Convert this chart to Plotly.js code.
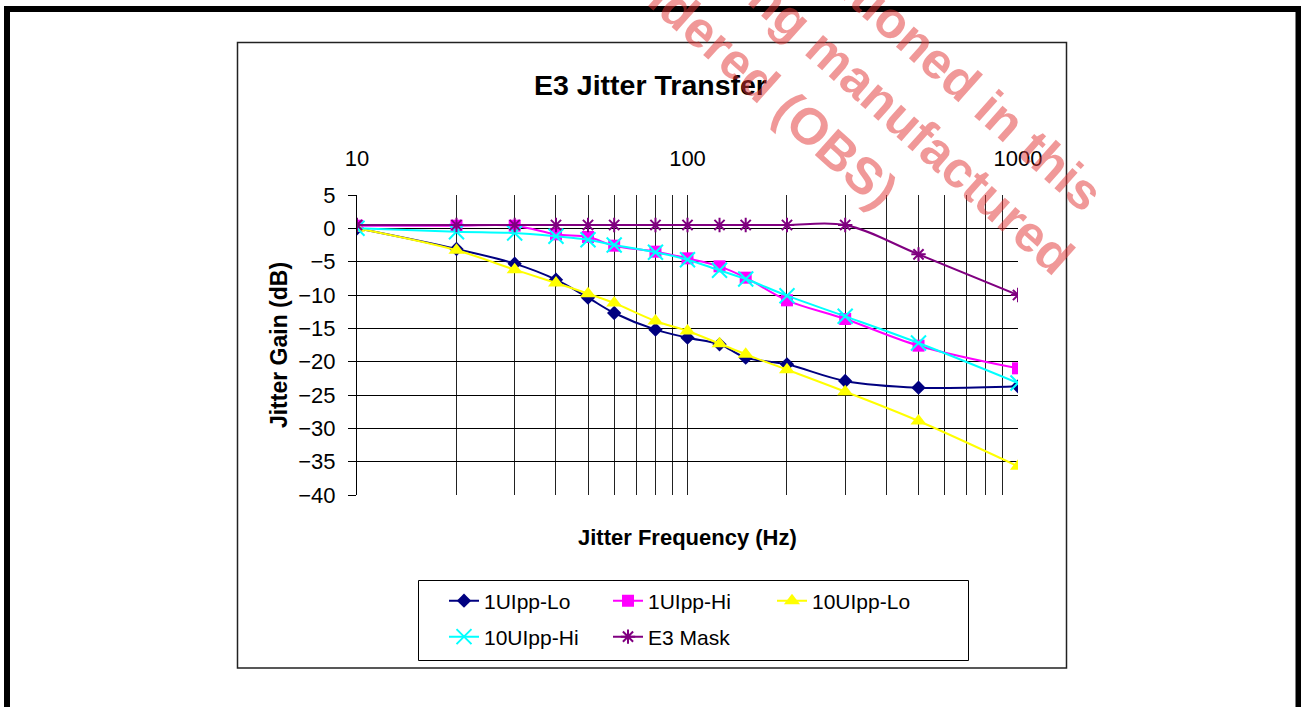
<!DOCTYPE html>
<html>
<head>
<meta charset="utf-8">
<script src="https://cdn.plot.ly/plotly-3.0.1.min.js"></script>
<style>
  html, body { margin: 0; padding: 0; background: #ffffff; }
  #chart { width: 1301px; height: 707px; }
</style>
</head>
<body>
<div id="chart"></div>
<script>
// ---- data ----
const freqHz = [10, 20, 30, 40, 50, 60, 80, 100, 125, 150, 200, 300, 500, 1000];
const ui1Lo  = [0, -3.1, -5.3, -7.7, -10.4, -12.7, -15.2, -16.4, -17.4, -19.4, -20.4, -22.9, -23.9, -23.7];
const ui1Hi  = [0.4, 0.4, 0.4, -0.9, -1.3, -2.6, -3.5, -4.5, -5.7, -7.4, -10.8, -13.6, -17.6, -21.0];
const ui10Lo = [0, -3.3, -6.2, -8.2, -9.8, -11.2, -13.9, -15.4, -17.3, -18.9, -21.2, -24.5, -28.9, -35.7];
const ui10Hi = [0, -0.5, -0.7, -1.2, -1.7, -2.5, -3.6, -4.7, -6.3, -7.6, -10.1, -13.2, -17.2, -23.2];
const e3Mask = [0.5, 0.5, 0.5, 0.5, 0.5, 0.5, 0.5, 0.5, 0.5, 0.5, 0.5, 0.5, -3.9, -10.0];

const seriesNames = ['1UIpp-Lo', '1UIpp-Hi', '10UIpp-Lo', '10UIpp-Hi', 'E3 Mask'];
const gridFreqs = [10, 20, 30, 40, 50, 60, 70, 80, 90, 100, 200, 300, 400, 500, 600, 700, 800, 900, 1000];
const labelFreqs = [10, 100, 1000];
const labelText = ['10', '100', '1000'];
const yTicks = [5, 0, -5, -10, -15, -20, -25, -30, -35, -40];

const watermarkLines = ['mentioned in this', 'being manufactured', 'considered (OBS)'];

// ---- layout geometry ----
const W = 1301, H = 707;
const L = 357, R = 1018, T = 195, B = 495;
const px = v => (v - L) / (R - L);
const py = v => (B - v) / (B - T);
const FONT = 'Liberation Sans, Arial, Helvetica, sans-serif';

function trace(name, y, color, symbol, size, extra) {
  return Object.assign({
    type: 'scatter', mode: 'lines+markers', name: name,
    x: freqHz, y: y,
    line: { color: color, width: 2, shape: 'spline', smoothing: 1 },
    marker: { symbol: symbol, size: size, color: color, line: { color: color, width: 0 } }
  }, extra || {});
}

const data = [
  trace(seriesNames[0], ui1Lo, '#000080', 'diamond', 11),
  trace(seriesNames[1], ui1Hi, '#FF00FF', 'square', 12),
  trace(seriesNames[2], ui10Lo, '#FFFF00', 'triangle-up', 14),
  trace(seriesNames[3], ui10Hi, '#00FFFF', 'x-thin-open', 15, { legend: 'legend2' }),
  trace(seriesNames[4], e3Mask, '#800080', 'asterisk-open', 12, { legend: 'legend2' })
];
data[3].marker.line = { color: '#00FFFF', width: 2 };
data[4].marker.line = { color: '#800080', width: 2 };

const wmPos = [[938, 60], [883, 102], [729, 54]];
const annotations = watermarkLines.map((t, i) => ({
  text: t, xref: 'paper', yref: 'paper', x: px(wmPos[i][0]), y: py(wmPos[i][1]),
  xanchor: 'center', yanchor: 'middle', showarrow: false, textangle: 41.8,
  font: { family: FONT, size: 51, weight: 'bold', color: 'rgba(225,50,50,0.5)' }
}));
// x-axis title drawn below the plot (tick labels sit on top)
annotations.push({
  text: 'Jitter Frequency (Hz)', xref: 'paper', yref: 'paper', x: 0.5, y: py(537),
  xanchor: 'center', yanchor: 'middle', showarrow: false,
  font: { family: FONT, size: 22, weight: 'bold', color: '#000' }
});

const shapes = [
  { type: 'rect', xref: 'paper', yref: 'paper', x0: px(7), x1: px(1298.5), y0: py(9), y1: py(730),
    line: { color: '#000', width: 6 }, layer: 'above' },
  { type: 'rect', xref: 'paper', yref: 'paper', x0: px(237.5), x1: px(1066.5), y0: py(42.5), y1: py(668),
    line: { color: '#222', width: 1.5 }, layer: 'above' },
  { type: 'rect', xref: 'paper', yref: 'paper', x0: px(418.5), x1: px(968.5), y0: py(580.5), y1: py(660.5),
    line: { color: '#000', width: 1 }, layer: 'above' }
];

const legendCommon = {
  orientation: 'h', xanchor: 'left', yanchor: 'middle',
  entrywidth: 119, entrywidthmode: 'pixels',
  font: { family: FONT, size: 21, color: '#000' },
  bgcolor: 'rgba(0,0,0,0)', borderwidth: 0, traceorder: 'normal'
};

const layout = {
  width: W, height: H,
  margin: { l: L, r: W - R, t: T, b: H - B, pad: 0 },
  paper_bgcolor: '#ffffff', plot_bgcolor: 'rgba(0,0,0,0)',
  font: { family: FONT, color: '#000' },
  title: {
    text: 'E3 Jitter Transfer', x: 0.5, xanchor: 'center', y: 1 - 85 / H, yanchor: 'middle',
    font: { family: FONT, size: 28.5, weight: 'bold', color: '#000' }
  },
  xaxis: {
    type: 'log', range: [1, 3], side: 'top',
    tickmode: 'array', tickvals: gridFreqs,
    ticktext: gridFreqs.map(f => { const k = labelFreqs.indexOf(f); return k >= 0 ? labelText[k] : ''; }),
    ticks: '', ticklabelstandoff: 24,
    tickfont: { family: FONT, size: 22, color: '#000' },
    showgrid: true, gridcolor: '#222', gridwidth: 1, zeroline: false, showline: false,
    automargin: false
  },
  yaxis: {
    range: [-40, 5], tickmode: 'array', tickvals: yTicks,
    ticks: 'outside', ticklen: 8, tickcolor: '#000', tickwidth: 1,
    showline: true, linecolor: '#000', linewidth: 1, mirror: false,
    showgrid: true, gridcolor: '#000', gridwidth: 1, zeroline: false,
    ticklabelstandoff: 8,
    tickfont: { family: FONT, size: 22, color: '#000' },
    title: { text: 'Jitter Gain (dB)', standoff: 4,
             font: { family: FONT, size: 23, weight: 'bold', color: '#000' } },
    automargin: false
  },
  legend: Object.assign({}, legendCommon, { x: px(444), y: py(601) }),
  legend2: Object.assign({}, legendCommon, { x: px(444), y: py(637) }),
  showlegend: true,
  shapes: shapes,
  annotations: annotations
};

Plotly.newPlot('chart', data, layout, { displayModeBar: false, staticPlot: true });
</script>
</body>
</html>
